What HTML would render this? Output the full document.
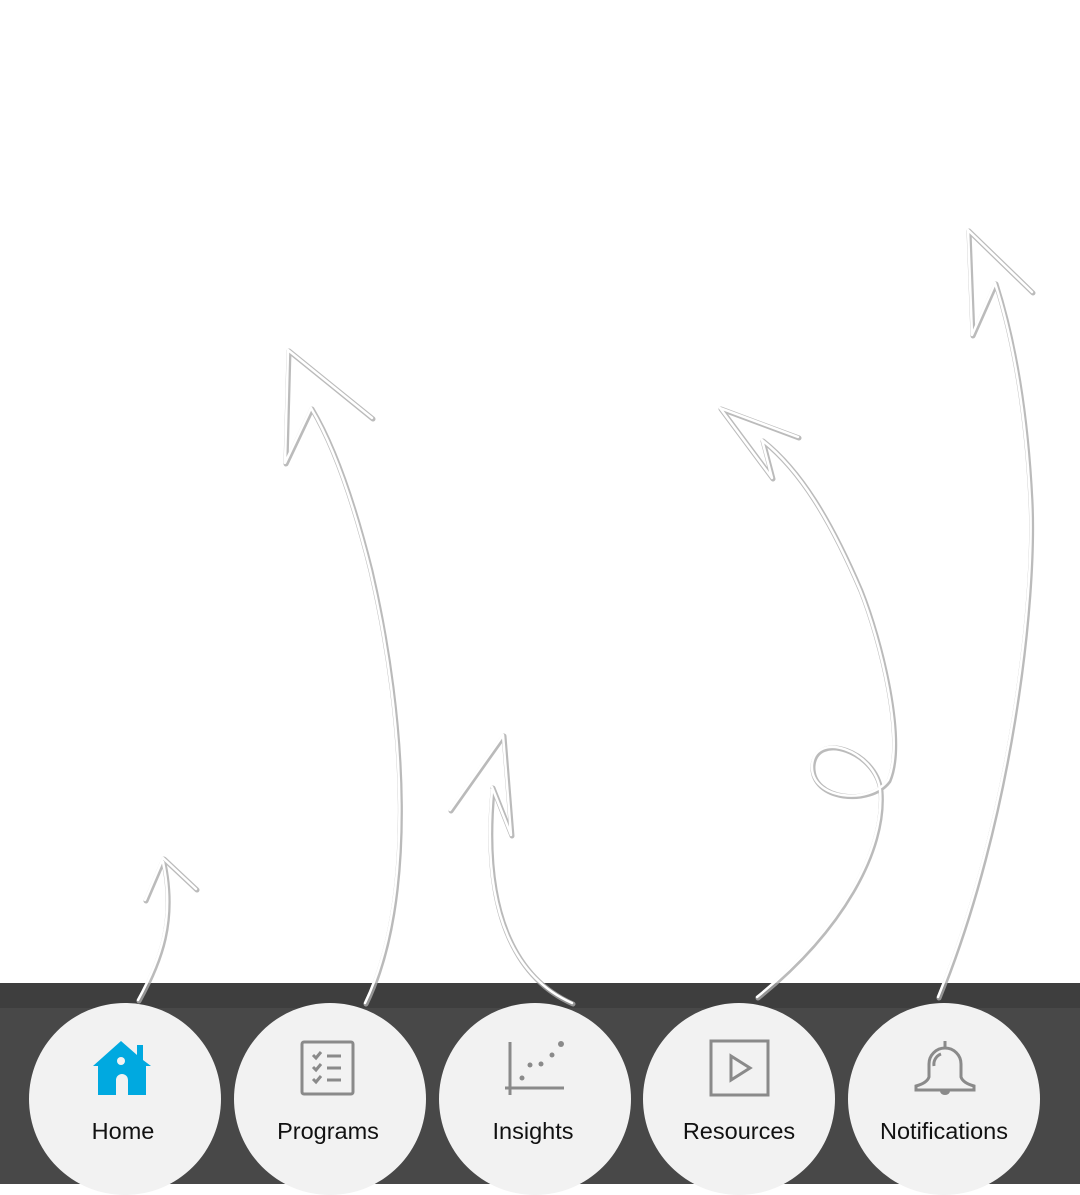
<!DOCTYPE html>
<html><head><style>
html,body{margin:0;padding:0;background:#fff;}
body{width:1080px;height:1184px;position:relative;overflow:hidden;font-family:"Liberation Sans",sans-serif;}
.bar{position:absolute;left:0;top:983px;width:1080px;height:201px;background:#484848;}
.strip{position:absolute;left:0;top:983px;width:1080px;height:25px;background:#3e3e3e;}
.c{position:absolute;top:1003px;width:192px;height:192px;border-radius:50%;background:#f2f2f2;}
.lbl{position:absolute;top:1118px;width:192px;text-align:center;font-size:23.5px;color:#111;}
svg{position:absolute;left:0;top:0;}
</style></head><body>
<div class="bar"></div><div class="strip"></div>
<div class="c" style="left:29px"></div>
<div class="c" style="left:234px"></div>
<div class="c" style="left:439px"></div>
<div class="c" style="left:643px"></div>
<div class="c" style="left:848px"></div>
<div class="lbl" style="left:27px">Home</div>
<div class="lbl" style="left:232px">Programs</div>
<div class="lbl" style="left:437px">Insights</div>
<div class="lbl" style="left:643px">Resources</div>
<div class="lbl" style="left:848px">Notifications</div>
<svg width="1080" height="1184" viewBox="0 0 1080 1184">
<defs>
<g id="arrows" fill="none" stroke-linecap="round" stroke-linejoin="round">
<path d="M138,1000 C160,960 175,920 163,862 M145,900 L163,858 L196,889"/>
<path d="M365,1003 C415,900 405,720 370,570 C350,490 330,440 311,408 M372,418 L288,350 L285,463 L311,408"/>
<path d="M572,1003 C520,980 480,920 492,790 M450,810 L503,735 L511,835 L492,787"/>
<path d="M757,997 C840,930 885,850 880,790 C875,750 815,730 812,765 C810,800 870,805 888,780 C905,740 880,640 860,590 C830,520 800,470 762,440 M798,437 L720,408 L772,478 L762,440"/>
<path d="M938,997 C1010,820 1035,600 1030,500 C1025,400 1010,330 995,283 M1032,292 L968,230 L972,335 L995,283"/>
</g>
</defs>
<use href="#arrows" stroke="#aaa" stroke-width="5" transform="translate(1,1)" opacity="0.8"/>
<use href="#arrows" stroke="#fff" stroke-width="2.5"/>
<path d="M93,1066 L121,1041 L137,1055 L137,1045 L143,1045 L143,1060 L151,1066 L146,1066 L146,1095 L128,1095 L128,1080 A6,6 0 0 0 116,1080 L116,1095 L98,1095 L98,1066 Z" fill="#00a9e0"/>
<circle cx="121" cy="1061" r="4" fill="#f2f2f2"/>
<rect x="302" y="1042" width="51" height="52" rx="2" fill="none" stroke="#8a8a8a" stroke-width="3"/>
<g stroke="#8a8a8a" stroke-width="3" fill="none">
<path d="M313,1055 l3,3 l5,-6 M313,1067 l3,3 l5,-6 M313,1079 l3,3 l5,-6"/>
<path d="M327,1056 h14 M327,1068 h14 M327,1080 h14"/>
</g>
<g stroke="#8a8a8a" stroke-width="3" fill="#8a8a8a">
<path d="M510,1042 V1095 M505,1088 H564" fill="none"/>
<circle cx="522" cy="1078" r="2.5" stroke="none"/><circle cx="530" cy="1065" r="2.5" stroke="none"/>
<circle cx="541" cy="1064" r="2.5" stroke="none"/><circle cx="552" cy="1055" r="2.5" stroke="none"/>
<circle cx="561" cy="1044" r="3" stroke="none"/>
</g>
<rect x="711" y="1041" width="57" height="54" fill="none" stroke="#8a8a8a" stroke-width="3"/>
<path d="M731,1056 L750,1068 L731,1080 Z" fill="none" stroke="#8a8a8a" stroke-width="3"/>
<g stroke="#8a8a8a" stroke-width="3" fill="none">
<path d="M945,1041 v6"/>
<path d="M929,1077 V1064 A16,16 0 0 1 961,1064 V1077 Q963,1083 974,1086 V1090 H916 V1086 Q927,1083 929,1077 Z"/>
<path d="M934,1066 A11,11 0 0 1 941,1054"/>
</g>
<path d="M940,1091 A5,4 0 0 0 950,1091 Z" fill="#8a8a8a"/>
</svg>
</body></html>
